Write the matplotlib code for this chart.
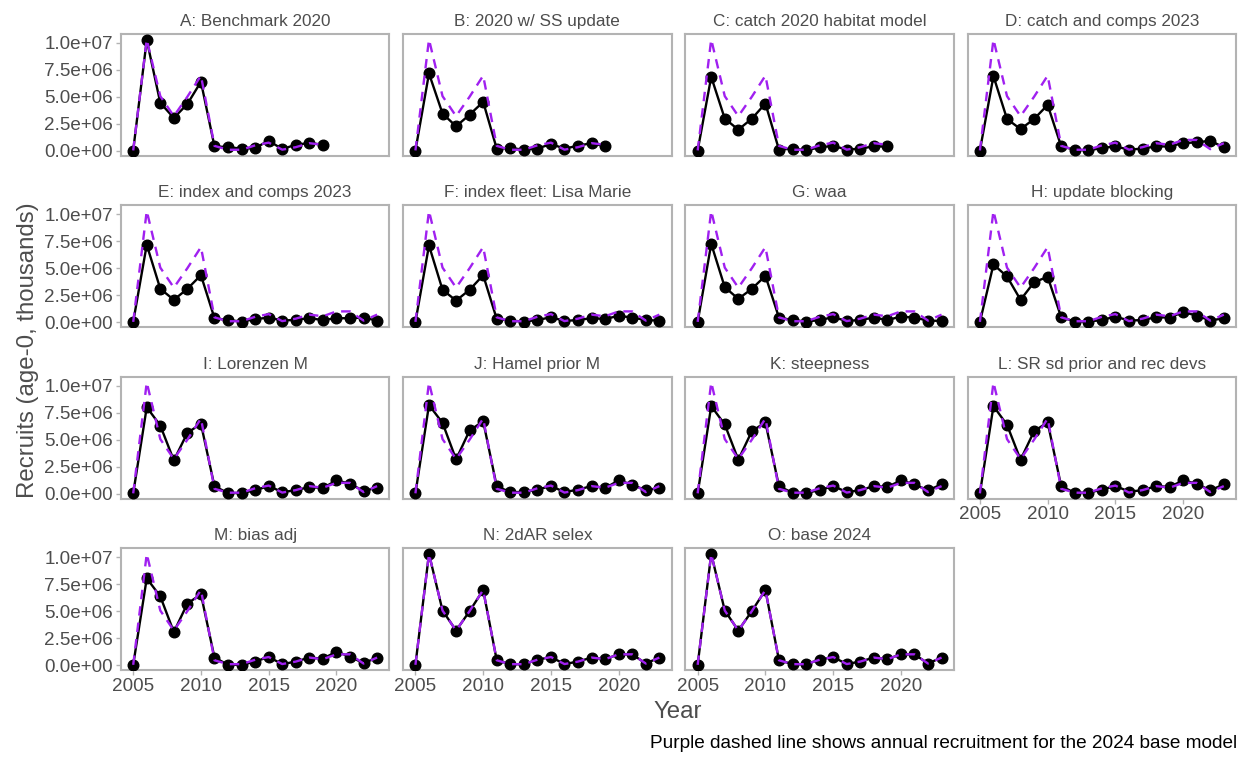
import matplotlib
matplotlib.use("Agg")
import matplotlib.pyplot as plt
from matplotlib.ticker import FuncFormatter

plt.rcParams['font.family'] = ['Liberation Sans', 'DejaVu Sans']

# --- data (recruits, age-0, thousands) ---
years = list(range(2005, 2024))

base_2024 = [0.03e6, 10.3e6, 5.05e6, 3.2e6, 5.0e6, 6.95e6, 0.45e6, 0.09e6, 0.09e6, 0.5e6,
             0.75e6, 0.1e6, 0.33e6, 0.7e6, 0.55e6, 1.0e6, 1.0e6, 0.15e6, 0.7e6]

rec_A = [0.02e6, 10.25e6, 4.43e6, 3.03e6, 4.33e6, 6.38e6, 0.4e6, 0.34e6, 0.19e6, 0.25e6,
         0.93e6, 0.15e6, 0.56e6, 0.71e6, 0.56e6]
rec_B = [0.02e6, 7.15e6, 3.44e6, 2.26e6, 3.34e6, 4.52e6, 0.19e6, 0.25e6, 0.1e6, 0.2e6,
         0.62e6, 0.2e6, 0.46e6, 0.71e6, 0.4e6]
rec_C = [0.02e6, 6.84e6, 2.97e6, 1.95e6, 2.97e6, 4.37e6, 0.1e6, 0.2e6, 0.05e6, 0.3e6,
         0.46e6, 0.1e6, 0.2e6, 0.4e6, 0.4e6]
rec_D = [0.02e6, 6.9e6, 2.94e6, 2.0e6, 2.94e6, 4.24e6, 0.4e6, 0.1e6, 0.03e6, 0.25e6,
         0.4e6, 0.1e6, 0.2e6, 0.4e6, 0.4e6, 0.71e6, 0.77e6, 0.93e6, 0.31e6]
rec_E = [0.02e6, 7.16e6, 3.09e6, 2.07e6, 3.09e6, 4.35e6, 0.37e6, 0.2e6, 0.06e6, 0.28e6,
         0.43e6, 0.15e6, 0.22e6, 0.37e6, 0.2e6, 0.37e6, 0.37e6, 0.43e6, 0.15e6]
rec_F = [0.02e6, 7.1e6, 3.0e6, 2.0e6, 3.0e6, 4.35e6, 0.3e6, 0.15e6, 0.06e6, 0.2e6,
         0.46e6, 0.12e6, 0.2e6, 0.37e6, 0.3e6, 0.59e6, 0.43e6, 0.2e6, 0.15e6]
rec_G = [0.02e6, 7.25e6, 3.24e6, 2.16e6, 3.09e6, 4.29e6, 0.43e6, 0.2e6, 0.06e6, 0.2e6,
         0.46e6, 0.12e6, 0.2e6, 0.43e6, 0.2e6, 0.52e6, 0.43e6, 0.15e6, 0.12e6]
rec_H = [0.02e6, 5.34e6, 4.23e6, 2.07e6, 3.7e6, 4.2e6, 0.46e6, 0.06e6, 0.06e6, 0.2e6,
         0.52e6, 0.15e6, 0.2e6, 0.46e6, 0.43e6, 0.93e6, 0.62e6, 0.15e6, 0.37e6]
rec_I = [0.02e6, 8.0e6, 6.3e6, 3.08e6, 5.63e6, 6.46e6, 0.68e6, 0.06e6, 0.06e6, 0.31e6,
         0.71e6, 0.15e6, 0.31e6, 0.62e6, 0.52e6, 1.23e6, 0.92e6, 0.25e6, 0.55e6]
rec_J = [0.02e6, 8.2e6, 6.55e6, 3.17e6, 5.85e6, 6.7e6, 0.68e6, 0.15e6, 0.15e6, 0.37e6,
         0.71e6, 0.15e6, 0.37e6, 0.71e6, 0.52e6, 1.23e6, 0.83e6, 0.31e6, 0.52e6]
rec_K = [0.02e6, 8.1e6, 6.4e6, 3.14e6, 5.78e6, 6.6e6, 0.68e6, 0.09e6, 0.09e6, 0.31e6,
         0.71e6, 0.15e6, 0.31e6, 0.71e6, 0.62e6, 1.23e6, 0.86e6, 0.31e6, 0.86e6]
rec_L = [0.02e6, 8.1e6, 6.37e6, 3.14e6, 5.78e6, 6.6e6, 0.68e6, 0.09e6, 0.09e6, 0.37e6,
         0.71e6, 0.2e6, 0.31e6, 0.71e6, 0.62e6, 1.23e6, 0.92e6, 0.31e6, 0.86e6]
rec_M = [0.02e6, 8.03e6, 6.36e6, 3.06e6, 5.7e6, 6.55e6, 0.7e6, 0.03e6, 0.03e6, 0.33e6,
         0.76e6, 0.09e6, 0.33e6, 0.7e6, 0.6e6, 1.24e6, 0.79e6, 0.18e6, 0.7e6]
rec_N = list(base_2024)
rec_O = list(base_2024)

titles = ["A: Benchmark 2020", "B: 2020 w/ SS update", "C: catch 2020 habitat model",
          "D: catch and comps 2023", "E: index and comps 2023", "F: index fleet: Lisa Marie",
          "G: waa", "H: update blocking", "I: Lorenzen M", "J: Hamel prior M",
          "K: steepness", "L: SR sd prior and rec devs", "M: bias adj", "N: 2dAR selex",
          "O: base 2024"]
series = [rec_A, rec_B, rec_C, rec_D, rec_E, rec_F, rec_G, rec_H,
          rec_I, rec_J, rec_K, rec_L, rec_M, rec_N, rec_O]

# --- figure ---
fig = plt.figure(figsize=(12.44, 7.59), dpi=100)
gs = fig.add_gridspec(4, 4, left=121 / 1244, right=1236 / 1244,
                      top=1 - 34 / 759, bottom=1 - 670 / 759,
                      wspace=0.052, hspace=0.41)

border = '#B3B3B3'
txt = '#4D4D4D'
fmt = FuncFormatter(lambda v, p: f"{v:.1e}")

for i, (title, vals) in enumerate(zip(titles, series)):
    r, c = divmod(i, 4)
    ax = fig.add_subplot(gs[r, c])
    yrs = years[:len(vals)]
    ax.plot(yrs, vals, color='black', lw=1.7, zorder=2)
    ax.scatter(yrs, vals, color='black', s=58, zorder=3)
    ax.plot(yrs, base_2024[:len(vals)], color='#A020F0', lw=1.7,
            dashes=(4, 3), zorder=4)

    ax.set_xlim(2004.1, 2023.9)
    ax.set_ylim(-0.45e6, 10.8e6)
    ax.set_xticks([2005, 2010, 2015, 2020])
    ax.set_yticks([0, 2.5e6, 5e6, 7.5e6, 1e7])
    ax.yaxis.set_major_formatter(fmt)
    ax.set_title(title, fontsize=12.3, color=txt, pad=6)

    for s in ax.spines.values():
        s.set_color(border)
        s.set_linewidth(1.5)
    ax.tick_params(colors=border, labelcolor=txt, labelsize=13.6, length=3.5,
                   width=1, pad=2)

    if c != 0:
        ax.tick_params(axis='y', left=False, labelleft=False)
    # x labels only where no panel sits below
    if i + 4 < len(titles):
        ax.tick_params(axis='x', bottom=False, labelbottom=False)

fig.text(28 / 1244, 1 - 350 / 759, "Recruits (age-0, thousands)", rotation=90,
         ha='center', va='center', fontsize=17.3, color=txt)
fig.text(678 / 1244, 1 - 712 / 759, "Year", ha='center', va='center',
         fontsize=17.3, color=txt)
fig.text(1237 / 1244, 1 - 744 / 759,
         "Purple dashed line shows annual recruitment for the 2024 base model",
         ha='right', va='center', fontsize=13.7, color='black')

fig.savefig("out.png", dpi=100)
